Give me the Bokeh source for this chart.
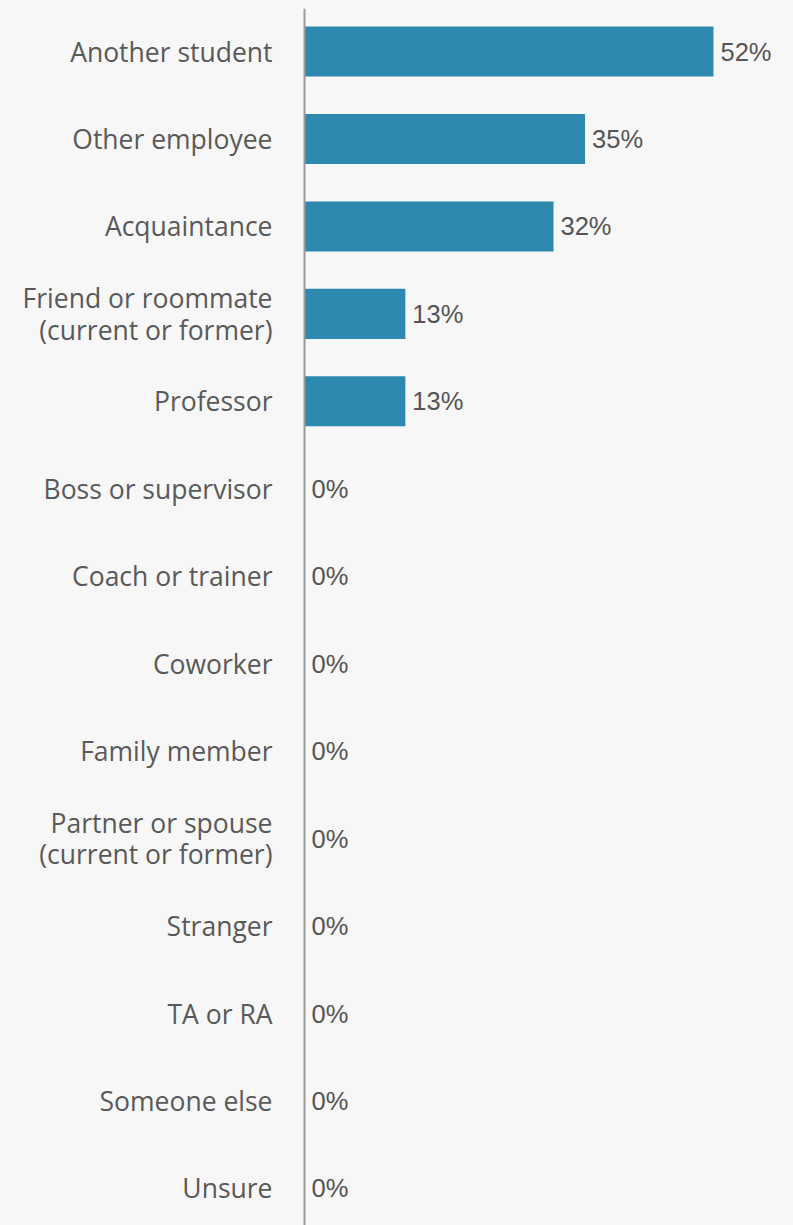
from bokeh.plotting import figure
from bokeh.models import ColumnDataSource, Range1d, Span
from bokeh.core.properties import value
from bokeh.embed import file_html
from bokeh.resources import INLINE

categories = [
    "Another student", "Other employee", "Acquaintance",
    "Friend or roommate\n(current or former)", "Professor",
    "Boss or supervisor", "Coach or trainer", "Coworker", "Family member",
    "Partner or spouse\n(current or former)", "Stranger", "TA or RA",
    "Someone else", "Unsure",
]
values = [51.9, 35.6, 31.6, 12.8, 12.8, 0, 0, 0, 0, 0, 0, 0, 0, 0]
labels = ["52%", "35%", "32%", "13%", "13%", "0%", "0%", "0%", "0%", "0%",
          "0%", "0%", "0%", "0%"]

pos = list(range(len(categories)))
src = ColumnDataSource(dict(cat=categories, y=pos, v=values, lab=labels,
                            zero=[0] * len(pos)))

W, H = 793, 1225
TOP = 8
scale = 7.88
x0px = 304
row = 87.46
frame_h = H - TOP
p = figure(width=W, height=H, output_backend="svg", toolbar_location=None,
           x_range=Range1d(-x0px / scale, (W - x0px) / scale),
           y_range=Range1d(frame_h / row - 0.4917, -0.4917),
           min_border=0, min_border_left=0, min_border_right=0,
           min_border_top=TOP, min_border_bottom=0)
p.background_fill_color = "#f7f7f7"
p.border_fill_color = "#f7f7f7"
p.outline_line_color = None
p.axis.visible = False
p.grid.visible = False

p.hbar(y="y", left=0, right="v", height=0.572, source=src,
       fill_color="#2d89af", line_color=None)

p.add_layout(Span(location=0, dimension="height", line_color="#9a9a9a",
                  line_width=2))

p.text(x="zero", y="y", text="cat", source=src, x_offset=-32,
       text_align="right", text_baseline="middle",
       text_font=value("Open Sans"), text_font_size="26.5px",
       text_color="#595959", text_line_height=0.88)

p.text(x="v", y="y", text="lab", source=src, x_offset=7,
       text_align="left", text_baseline="middle",
       text_font=value("Liberation Sans"), text_font_size="25.5px",
       text_color="#555555")

html = file_html(p, INLINE)
html = html.replace("</head>", "<style>body{background:#f7f7f7;}</style></head>", 1)
open("out.html", "w").write(html)
